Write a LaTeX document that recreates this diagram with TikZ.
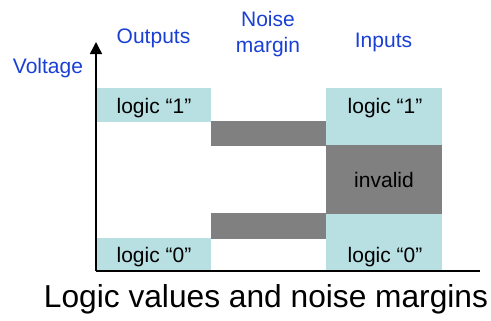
\documentclass[tikz,border=0pt]{standalone}
\usepackage{fontspec}
\setmainfont{Liberation Sans}
\usepackage{xcolor}
\usepackage{tikz}
\usetikzlibrary{arrows.meta}

\definecolor{logiccyan}{HTML}{B8DFE2}
\definecolor{bandgray}{HTML}{808080}
\definecolor{headblue}{HTML}{1A3FD4}

\tikzset{
    lbl/.style={anchor=base, inner sep=0pt, font=\fontsize{21bp}{26bp}\selectfont},
    head/.style={lbl, text=headblue, align=center},
}

\begin{document}
\begin{tikzpicture}[x=1bp, y=-1bp]
    \useasboundingbox (0,0) rectangle (491,320);

    % logic bands
    \fill[logiccyan] (97,88)   rectangle (211,122);
    \fill[logiccyan] (97,238)  rectangle (211,271);
    \fill[logiccyan] (326,88)  rectangle (442,145);
    \fill[logiccyan] (326,214) rectangle (442,271);
    \fill[bandgray]  (326,145) rectangle (442,214);
    \fill[bandgray]  (211,121) rectangle (326,146);
    \fill[bandgray]  (211,213) rectangle (326,239);

    % axes
    \coordinate (origin) at (96,271);
    \coordinate (vtop)   at (96,42);
    \coordinate (hend)   at (480,271);
    \draw[line width=1.5bp, -{Triangle[width=12bp,length=12bp]}] (origin) -- (vtop);
    \draw[line width=1.5bp] (origin) -- (hend);

    \node[head] (voltage) at (48,73)    {Voltage};
    \node[head] (outputs) at (153.5,43) {Outputs};
    \node[head] (noise)   at (268,52)   {Noise\\margin};
    \node[head] (inputs)  at (383.5,47) {Inputs};

    \node[lbl] (out1)    at (154,113) {logic “1”};
    \node[lbl] (in1)     at (385,113) {logic “1”};
    \node[lbl] (invalid) at (384,187) {invalid};
    \node[lbl] (out0)    at (154,262) {logic “0”};
    \node[lbl] (in0)     at (385,262) {logic “0”};

    \node[anchor=base, inner sep=0pt, font=\fontsize{31.7bp}{38bp}\selectfont] (title) at (266,307) {Logic values and noise margins};
\end{tikzpicture}
\end{document}
